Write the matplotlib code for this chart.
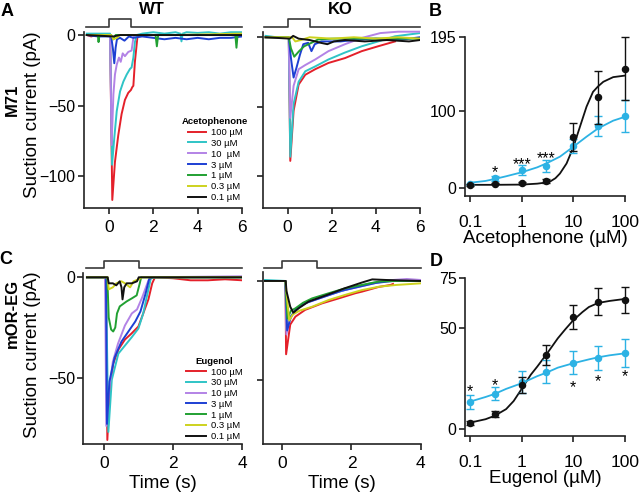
import matplotlib
matplotlib.use('Agg')
import matplotlib.pyplot as plt
import numpy as np
from matplotlib.ticker import FixedLocator, NullFormatter, LogLocator, FixedFormatter

plt.rcParams['font.family'] = ['Liberation Sans', 'DejaVu Sans']

# ---------------- colours ----------------
RED = '#e4202a'
CYAN = '#2fc4c6'
VIOLET = '#b383e6'
BLUE = '#1d3fd3'
GREEN = '#21a032'
YELLOW = '#cdd21e'
BLACK = '#111111'
LBLUE = '#2cb2e4'
trace_colors = [RED, CYAN, VIOLET, BLUE, GREEN, YELLOW, BLACK]

# ---------------- legend labels ----------------
ace_labels = ['100 µM', '30 µM', '10  µM', '3 µM', '1 µM', '0.3 µM', '0.1 µM']
eug_labels = ['100 µM', '30 µM', '10 µM', '3 µM', '1 µM', '0.3 µM', '0.1 µM']

# ---------------- traces: (time s, current pA) ----------------
# M71 WT, acetophenone
wt_ace_100 = [(-1, 0), (-0.8, -1), (-0.6, 0), (0.05, 0), (0.15, -117), (0.27, -90), (0.42, -71), (0.57, -56),
              (0.72, -46), (0.87, -41), (0.99, -39), (1.05, -37), (1.1, -36), (1.17, -19), (1.28, -2), (1.35, 0),
              (2, 0), (3, 0), (4, 0), (5, 0), (6, 0)]
wt_ace_30 = [(-1, 1), (0.05, 1), (0.14, -92), (0.24, -73), (0.35, -54), (0.5, -40), (0.65, -33), (0.8, -28),
             (0.95, -24), (1.02, -23), (1.1, -16), (1.17, -5), (1.25, 0), (1.5, 1), (2, 2), (2.5, 1), (3, 2),
             (3.22, 1), (3.27, -4.5), (3.32, 1), (3.5, 2), (4, 1.5), (4.5, 2), (5, 1), (5.5, 2), (6, 2)]
wt_ace_10 = [(-1, 0), (0.05, 0), (0.12, -78), (0.2, -42), (0.27, -28), (0.35, -21), (0.45, -16), (0.53, -19),
             (0.62, -13), (0.72, -15), (0.87, -12), (1.02, -11), (1.1, -2), (1.15, 0), (6, 0)]
wt_ace_3 = [(-1, 0), (-0.5, -1), (0.1, -1), (0.18, -10), (0.24, -20), (0.3, -9), (0.36, -3), (0.5, -2), (0.7, -4),
            (0.9, -1), (1.1, -2), (1.5, -1), (2, -2), (2.5, -3), (3, -2), (3.5, -3), (4, -2), (4.5, -3), (5, -2),
            (5.5, -2), (6, -1)]
wt_ace_1 = [(-1, 0), (-0.5, 0), (-0.47, -5), (-0.43, 0), (0.1, 0), (0.2, -3), (0.3, 0), (2.1, 0), (2.16, -8),
            (2.22, 0), (5.7, 0), (5.75, -9), (5.8, 0), (6, 0)]
wt_ace_03 = [(-1, 0), (0.1, 0), (0.2, -3), (0.35, -2), (0.5, 0), (3, 0), (6, 1)]
wt_ace_01 = [(-1, 0), (0.2, -1), (0.5, 0), (6, 0)]

# M71 KO, acetophenone
ko_ace_100 = [(-1, 0), (0.05, 0), (0.12, -89), (0.27, -53), (0.5, -34), (0.8, -27), (1.25, -23), (1.85, -18.5),
              (2.6, -15), (3.36, -10), (4.1, -6.5), (4.87, -3)]
ko_ace_30 = [(-1, 1), (-0.5, 0), (0.05, 0), (0.12, -86), (0.27, -48), (0.5, -32), (0.8, -24.5), (1.25, -21),
             (1.85, -16), (2.6, -11), (3.36, -6.5), (4.1, -3), (4.87, 0.7), (5.5, 2), (6, 3)]
ko_ace_10 = [(-1, 0), (0.05, 0), (0.12, -58), (0.27, -35), (0.5, -23), (0.8, -20), (1.25, -16), (1.85, -10),
             (2.6, -5), (3.36, -0.5), (4.2, 3), (5, 4), (6, 4)]
ko_ace_3 = [(-1, 0), (0.05, 0), (0.15, -15), (0.27, -29), (0.4, -22), (0.56, -12.5), (0.71, -5), (0.93, -4),
            (1.08, -10), (1.23, -5), (1.53, -3), (2.4, -3), (3, -2), (4, -1), (5, -2), (6, 0)]
ko_ace_1 = [(-1, 0), (0.05, 0), (0.15, -8), (0.3, -14), (0.52, -10), (0.75, -6.5), (1.08, -4), (1.38, -1.6),
            (2, -1), (3, -1), (4, -1), (5, -1), (6, -1)]
ko_ace_03 = [(-1, 0), (0.2, 0), (0.35, -3), (0.6, -2), (1, 0), (2, -1), (3, 0), (4, -1), (5, 0), (6, -1)]
ko_ace_01 = [(-1, 0), (0.1, -1), (0.25, 1), (0.5, -1), (1, -2), (1.5, -4), (1.8, -5), (2.1, -3), (2.6, -2),
             (3.5, -3), (4.5, -2), (5.5, -3), (6, -2)]

# mOR-EG WT, eugenol
wt_eug_100 = [(-0.5, 0), (0.05, 0), (0.09, -81), (0.17, -54.5), (0.26, -43), (0.41, -36), (0.6, -31), (0.79, -28),
              (0.99, -24.5), (1.13, -18), (1.28, -11), (1.39, -3), (1.47, 0), (2, -0.5), (2.5, -1.5), (3, -1.5),
              (3.5, -1), (4, -1.5)]
wt_eug_30 = [(-0.5, 0), (0.05, 0), (0.12, -77), (0.22, -51), (0.41, -38), (0.6, -34), (0.79, -30), (0.99, -25.5),
             (1.13, -18), (1.23, -10), (1.35, -0.5), (1.5, 0), (4, 0)]
wt_eug_10 = [(-0.5, 0), (0.02, 0), (0.03, -10), (0.06, -74), (0.15, -55), (0.25, -42), (0.4, -33), (0.6, -24),
             (0.8, -18), (0.95, -16), (1.1, -10), (1.25, -3), (1.32, 0), (4, 0.5)]
wt_eug_3 = [(-0.5, 0), (0.05, 0), (0.08, -73), (0.15, -52), (0.3, -40), (0.5, -32), (0.7, -27), (0.9, -22),
            (1.05, -17), (1.2, -8), (1.3, -1), (1.4, 0), (4, 0)]
wt_eug_1 = [(-0.5, 0), (0.09, 0), (0.13, -20), (0.2, -26), (0.26, -27), (0.32, -25), (0.37, -18), (0.45, -14.5),
            (0.65, -12), (0.8, -10.5), (0.94, -9), (1.03, -3), (1.07, 0), (4, 0)]
wt_eug_03 = [(-0.5, 0), (0.1, 0), (0.13, -6), (0.25, -5), (0.35, -3), (0.5, -2), (0.6, -3), (0.75, -5),
             (0.85, -2), (1.0, -1), (1.1, 0), (4, 0)]
wt_eug_01 = [(-0.5, 0), (0.1, 0), (0.13, -3), (0.25, -3), (0.35, -4), (0.45, -2), (0.5, -5), (0.53, -11),
             (0.58, -5), (0.65, -3), (0.8, -3), (0.95, -2), (1.0, 0), (4, 0)]

# mOR-EG KO, eugenol
ko_eug_100 = [(-0.5, 0), (0.09, 0), (0.11, -37), (0.23, -22), (0.38, -18), (0.66, -14.6), (1.15, -11.3),
              (1.63, -8.8), (2.11, -6.2), (2.3, -5.4), (2.79, -3), (3.13, -2), (3.2, -1.5)]
ko_eug_30 = [(-0.5, 0.5), (0.09, 0), (0.12, -25), (0.2, -19), (0.38, -15), (0.66, -11), (1.15, -8), (1.63, -5.5),
             (2.11, -3), (2.6, -1), (3, 0), (3.5, 0.5), (4, 0)]
ko_eug_10 = [(-0.5, 0), (0.09, 0), (0.12, -27), (0.2, -20), (0.4, -14), (0.7, -11), (1.2, -8), (1.7, -5),
             (2.2, -3), (2.7, -1), (3.2, 0.5), (3.6, 1), (4, 0.5)]
ko_eug_3 = [(-0.5, 0), (0.09, 0), (0.14, -25), (0.25, -18), (0.4, -14), (0.7, -11), (1.2, -8), (1.7, -5),
            (2.2, -3), (2.7, -1), (3.2, 0), (4, 0)]
ko_eug_1 = [(-0.5, 0), (0.09, 0), (0.15, -19), (0.25, -15), (0.38, -13.8), (0.6, -11), (0.86, -8.8),
            (1.34, -6.2), (1.82, -3.7), (2.3, -2), (2.79, -0.3), (3.3, 0), (4, 0)]
ko_eug_03 = [(-0.5, 0), (0.09, 0), (0.2, -20), (0.3, -17), (0.5, -15), (0.86, -13), (1.34, -9.6), (1.82, -7),
             (2.3, -4.6), (2.79, -2.9), (3.3, -2), (4, -1.2)]
ko_eug_01 = [(-0.5, 0), (0.1, 0), (0.12, -5), (0.23, -13), (0.32, -16), (0.47, -13.8), (0.76, -10.4), (1.3, -7),
             (1.8, -3.7), (2.3, -0.8), (2.6, 0.8), (3, 0.5), (4, 0)]

# odor stimulus (time, level)
stim_t_ace = [-1.05, 0, 0, 1, 1, 6]
stim_t_eug = [-0.53, 0, 0, 1, 1, 4]

# ---------------- dose-response ----------------
conc = [0.1, 0.3, 1, 3, 10, 30, 100]
ace_wt = [4, 6, 7, 9.4, 66, 117, 154]
ace_wt_err = [1, 1, 1.5, 2.5, 18.5, 34, 40]
ace_ko = [5, 13, 23.5, 29, 55, 80, 93]
ace_ko_err = [1, 3, 7, 8, 9, 13, 21]
ace_fit_wt_x = [0.1, 0.3, 1, 2, 3, 3.5, 4.5, 5.5, 7.4, 10, 13.4, 18, 24, 30, 38, 59, 100]
ace_fit_wt_y = [4.5, 4.5, 4.8, 6, 7.5, 8.5, 13, 19, 32, 53, 79, 105, 124, 131, 137, 143, 145]
ace_fit_ko_x = [0.1, 0.2, 0.3, 0.5, 1, 2, 3, 5.5, 10, 18, 30, 59, 100]
ace_fit_ko_y = [7.2, 9.5, 12, 15.5, 20.6, 27, 32, 40.7, 53.5, 66.4, 77, 87, 92]
ace_stars = ['*', '***', '***']
ace_star_x = [0.3, 1, 3]
ace_star_y = [25.7, 36.4, 44.1]

eug_wt = [3.3, 7.4, 21.9, 36.8, 55.4, 63.2, 64]
eug_wt_err = [1, 1.5, 4, 5, 6, 6.6, 6.5]
eug_ko = [13.7, 17.5, 23.6, 28.5, 33, 35.1, 37.6]
eug_ko_err = [3.5, 3.2, 5.4, 5.6, 5.8, 6, 7]
eug_fit_wt_x = [0.1, 0.2, 0.3, 0.5, 0.7, 1, 1.5, 2, 3, 5, 7, 10, 15, 20, 30, 50, 100]
eug_fit_wt_y = [3.3, 5, 6.7, 10, 14, 20, 27, 31, 37, 45, 49.5, 54, 58, 60.5, 62.5, 63.5, 64.5]
eug_fit_ko_x = [0.1, 0.2, 0.3, 0.5, 1, 2, 3, 5, 10, 20, 30, 50, 100]
eug_fit_ko_y = [13.7, 16, 17.5, 20, 22.8, 26.3, 28, 30.5, 32.7, 34.6, 35.6, 36.6, 37.6]
eug_stars = ['*', '*', '*', '*', '*']
eug_star_x = [0.1, 0.3, 10, 30, 100]
eug_star_y = [20.6, 23.9, 22.8, 26, 28]

# ---------------- figure ----------------
W, H = 640, 500
fig = plt.figure(figsize=(6.4, 5.0), dpi=100)


def ax_px(l, t, r, b):
    return fig.add_axes([l / W, 1 - b / H, (r - l) / W, (b - t) / H])


def style_axes(ax, ytop, xpad):
    for s in ('top', 'right'):
        ax.spines[s].set_visible(False)
    for s in ('left', 'bottom'):
        ax.spines[s].set_linewidth(1.2)
        ax.spines[s].set_color('#222222')
    ax.tick_params(direction='out', length=4, width=1.2, color='#222222')
    ax.tick_params(axis='x', labelsize=12.5, pad=xpad)
    ax.tick_params(axis='y', labelsize=11.5, pad=2)
    if ytop is not None:
        ax.spines['left'].set_bounds(ax.get_ylim()[0], ytop)


def trace_panel(ax, traces, xlim, ylim, stim_t, stim_lo, stim_hi, xticks, yticks, ylab, ytop):
    lines = []
    for data, col in zip(traces, trace_colors):
        arr = np.array(data, dtype=float)
        ln, = ax.plot(arr[:, 0], arr[:, 1], color=col, lw=1.4)
        lines.append(ln)
    stim_v = [stim_lo, stim_lo, stim_hi, stim_hi, stim_lo, stim_lo]
    ax.plot(stim_t, stim_v, color='#3a3a3a', lw=1.2, clip_on=False)
    ax.set_xlim(xlim)
    ax.set_ylim(ylim)
    ax.xaxis.set_major_locator(FixedLocator(xticks))
    ax.yaxis.set_major_locator(FixedLocator(yticks))
    if not ylab:
        ax.yaxis.set_major_formatter(NullFormatter())
    style_axes(ax, ytop, 4.5)
    return lines


# Panel A WT
axA = ax_px(84, 15.3, 242, 208)
linesA = trace_panel(axA, [wt_ace_100, wt_ace_30, wt_ace_10, wt_ace_3, wt_ace_1, wt_ace_03, wt_ace_01],
                     (-1.126, 6), (-122.7, 14.0), stim_t_ace, 5.7, 11.3, [0, 2, 4, 6], [0, -50, -100], True, 2.3)
# Panel A KO
axAK = ax_px(262.7, 15.3, 420, 208)
trace_panel(axAK, [ko_ace_100, ko_ace_30, ko_ace_10, ko_ace_3, ko_ace_1, ko_ace_03, ko_ace_01],
            (-1.13, 6), (-122.9, 15.8), stim_t_ace, 7.4, 13.2, [0, 2, 4, 6], [0, -50, -100], False, 4)
# Panel C WT
axC = ax_px(83.3, 257.2, 242.3, 444)
linesC = trace_panel(axC, [wt_eug_100, wt_eug_30, wt_eug_10, wt_eug_3, wt_eug_1, wt_eug_03, wt_eug_01],
                     (-0.606, 4), (-83.0, 10.0), stim_t_eug, 4.5, 8.3, [0, 2, 4], [0, -50], True, 2)
# Panel C KO
axCK = ax_px(262.7, 257.2, 420.7, 444)
trace_panel(axCK, [ko_eug_100, ko_eug_30, ko_eug_10, ko_eug_3, ko_eug_1, ko_eug_03, ko_eug_01],
            (-0.566, 4), (-82.3, 12.0), stim_t_eug, 6.7, 10.25, [0, 2, 4], [0, -50], False, 4.7)

axC.set_xlabel('Time (s)', fontsize=13.5, labelpad=3)
axCK.set_xlabel('Time (s)', fontsize=13.5, labelpad=3)

legA = axA.legend(linesA, ace_labels, title='Acetophenone', loc='upper left',
                  bbox_to_anchor=(182 / W, 1 - 117 / H), bbox_transform=fig.transFigure,
                  frameon=False, fontsize=6.8, title_fontsize=6.8, handlelength=1.9,
                  handletextpad=0.55, labelspacing=0.2, borderpad=0, borderaxespad=0)
legA.get_title().set_fontweight('bold')
legC = axC.legend(linesC, eug_labels, title='Eugenol', loc='upper left',
                  bbox_to_anchor=(186 / W, 1 - 357 / H), bbox_transform=fig.transFigure,
                  frameon=False, fontsize=6.8, title_fontsize=6.8, handlelength=2.1,
                  handletextpad=0.5, labelspacing=0.18, borderpad=0, borderaxespad=0)
legC.get_title().set_fontweight('bold')


def dose_panel(ax, wt, wt_e, ko, ko_e, fwx, fwy, fkx, fky, ylim, yticks, stars, sx, sy, xlabel):
    ax.set_xscale('log')
    ax.set_xlim(0.08, 100)
    ax.set_ylim(ylim)
    ax.plot(fwx, fwy, color=BLACK, lw=1.3, clip_on=False, zorder=2)
    ax.plot(fkx, fky, color=LBLUE, lw=1.3, clip_on=False, zorder=2)
    for y, e, c, z in ((ko, ko_e, LBLUE, 3), (wt, wt_e, BLACK, 4)):
        eb = ax.errorbar(conc, y, yerr=e, fmt='o', color=c, ms=4.4, elinewidth=1.0,
                         capsize=2.6, capthick=1.0, zorder=z)
        for art in eb.lines[1] + eb.lines[2]:
            art.set_clip_on(False)
        eb.lines[0].set_clip_on(False)
    for s, x, y in zip(stars, sx, sy):
        ax.annotate(s, xy=(x, y), xytext=(0, -6.4), textcoords='offset points',
                    ha='center', va='baseline', fontsize=11.5)
    ax.xaxis.set_major_locator(FixedLocator([0.1, 1, 10, 100]))
    ax.xaxis.set_major_formatter(FixedFormatter(['0.1', '1', '10', '100']))
    ax.xaxis.set_minor_locator(LogLocator(base=10, subs=np.arange(2, 10)))
    ax.xaxis.set_minor_formatter(NullFormatter())
    ax.yaxis.set_major_locator(FixedLocator(yticks))
    style_axes(ax, None, 9.5)
    ax.tick_params(which='minor', direction='out', length=2.5, width=0.9)
    ax.set_xlabel(xlabel, fontsize=13.5, labelpad=0)


axB = ax_px(465, 36.7, 625, 196.1)
dose_panel(axB, ace_wt, ace_wt_err, ace_ko, ace_ko_err, ace_fit_wt_x, ace_fit_wt_y, ace_fit_ko_x, ace_fit_ko_y,
           (-10, 195), [0, 100, 195], ace_stars, ace_star_x, ace_star_y, 'Acetophenone (µM)')
axD = ax_px(465, 277.7, 625, 436)
dose_panel(axD, eug_wt, eug_wt_err, eug_ko, eug_ko_err, eug_fit_wt_x, eug_fit_wt_y, eug_fit_ko_x, eug_fit_ko_y,
           (-3.3, 75), [0, 50, 75], eug_stars, eug_star_x, eug_star_y, 'Eugenol (µM)')


def ftext(x, y, s, **kw):
    fig.text(x / W, 1 - y / H, s, ha='center', va='center', **kw)


ftext(7, 11, 'A', fontsize=13, fontweight='bold')
ftext(435, 11, 'B', fontsize=13, fontweight='bold')
ftext(6, 259, 'C', fontsize=13, fontweight='bold')
ftext(436, 261, 'D', fontsize=13, fontweight='bold')
ftext(152, 10, 'WT', fontsize=12, fontweight='bold')
ftext(340, 10, 'KO', fontsize=12, fontweight='bold')
ftext(12, 100, 'M71', fontsize=12, fontweight='bold', rotation=90)
ftext(12, 313, 'mOR-EG', fontsize=12, fontweight='bold', rotation=90)
ftext(33, 115, 'Suction current (pA)', fontsize=13.5, rotation=90)
ftext(33, 355, 'Suction current (pA)', fontsize=13.5, rotation=90)

fig.savefig('out.png', dpi=100)
